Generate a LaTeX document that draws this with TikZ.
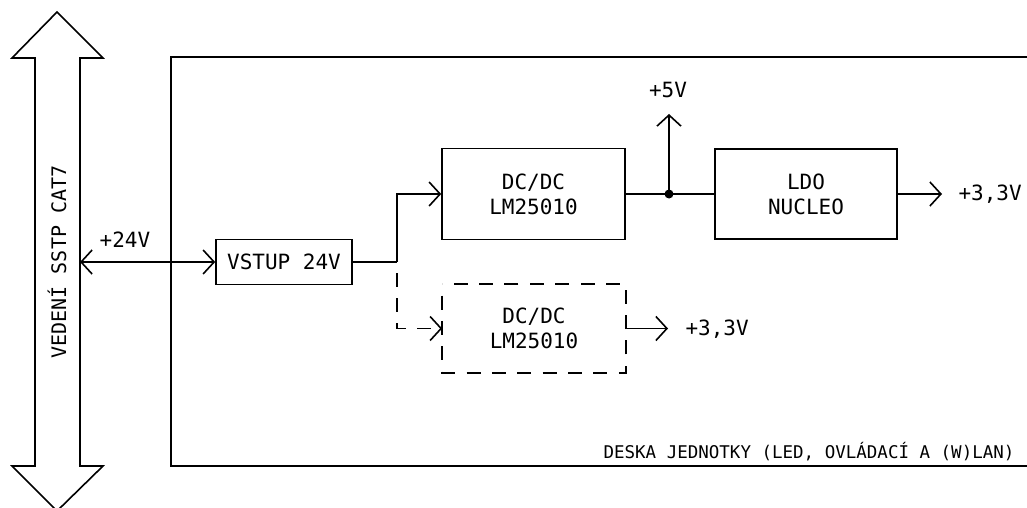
\documentclass[tikz,border=0pt]{standalone}
\usepackage{fontspec}
\setmainfont{DejaVu Sans Mono}
\usetikzlibrary{arrows.meta,decorations}

\begin{document}
\begin{tikzpicture}[x=1pt, y=-1pt, >={Straight Barb[length=11pt,width=24pt,line width=1.6pt]}, line join=miter,
	every node/.style={font=\fontsize{21}{25}\selectfont},
	spoj/.style={line width=1.6pt},
	blok/.style={draw, line width=1.6pt, align=center, inner sep=0pt, minimum width=183pt, minimum height=91pt},
	carkovane/.style={dash pattern=on 14pt off 11pt, dash expand off}]
	
	\useasboundingbox (0,0) rectangle (1027,508);
	
	% vedeni SSTP
	\draw[spoj] (35,58) -- (12,58) -- (57,12) -- (103,58) -- (80,58) -- (80,466) -- (103,466) -- (57,511) -- (12,466) -- (35,466) -- cycle;
	\node[rotate=90, font=\fontsize{20}{24}\selectfont] (vedeni) at (57,262) {VEDENÍ SSTP CAT7};
	
	% deska
	\draw[line width=2pt] (1030,57) -- (171,57) -- (171,466) -- (1030,466);
	\node[anchor=base east, font=\fontsize{17.5}{21}\selectfont] (deska) at (1018,458) {DESKA JEDNOTKY (LED, OVLÁDACÍ A (W)LAN)};
	
	% bloky
	\node[blok, minimum width=136pt, minimum height=45pt] (vstup) at (284,262) {VSTUP 24V};
	\node[blok] (dcdc) at (533.5,194) {DC/DC\\LM25010};
	\node[blok, minimum width=182pt, minimum height=90pt] (ldo) at (806,194) {LDO\\NUCLEO};
	\node[blok, draw=none, minimum width=182pt, minimum height=87pt] (dcdcb) at (534,328.5) {DC/DC\\LM25010};
	\draw[spoj, carkovane] (dcdcb.north west) rectangle (dcdcb.south east);
	
	\coordinate (vstupvedeni) at (80,262);
	\coordinate (rozb) at (397,262);
	\coordinate (uzel) at (669,194);
	\coordinate (v5) at (669,114);
	\coordinate (v33) at (942,194);
	\coordinate (v33b) at (668,328.5);
	
	% spoje
	\draw[spoj, <->] (vstupvedeni) -- (vstup.west);
	\draw[spoj] (vstup.east) -- (rozb);
	\draw[spoj, ->] (rozb) |- (dcdc.west);
	\draw[spoj, carkovane, ->] (rozb) |- (dcdcb.west);
	\draw[spoj] (dcdc.east) -- (ldo.west);
	\fill (uzel) circle (4.5pt);
	\draw[spoj, ->] (uzel) -- (v5);
	\draw[spoj, ->] (ldo.east) -- (v33);
	\draw[spoj, ->] (dcdcb.east) -- (v33b);
	
	% popisky
	\node (l24) at (125,240) {+24V};
	\node (l5) at (668,90) {+5V};
	\node[anchor=west] (l33) at (955,194) {+3,3V};
	\node[anchor=west] (l33b) at (682,329) {+3,3V};
	
\end{tikzpicture}
\end{document}
